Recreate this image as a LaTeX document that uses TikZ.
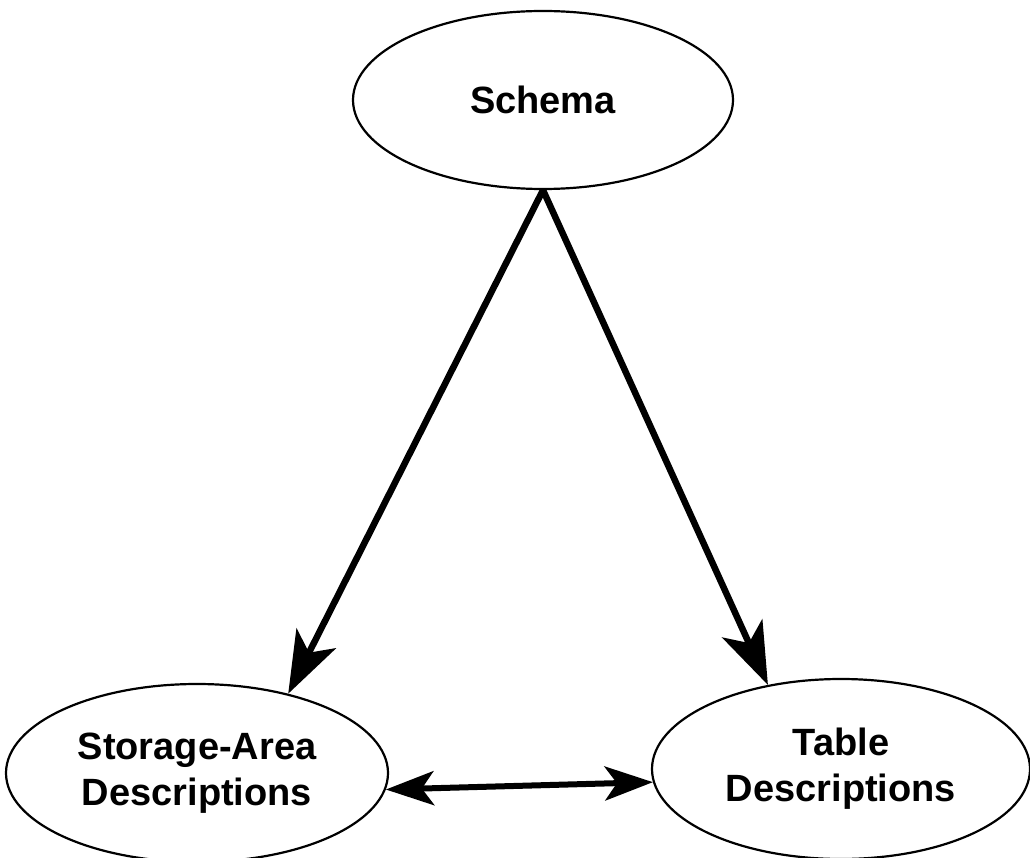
\documentclass[tikz,border=0pt]{standalone}
\usepackage{fontspec}
\setmainfont{Liberation Sans}
\usetikzlibrary{arrows.meta,shapes.geometric}
\begin{document}
\begin{tikzpicture}[x=1pt,y=-1pt,
  oval/.style={draw,ellipse,line width=2.2pt,inner sep=0pt,align=center,
    font=\fontsize{38}{46}\selectfont\bfseries},
  conn/.style={line width=6.5pt,-{Stealth[length=62pt,width=44pt,inset=16pt]}},
  dconn/.style={line width=6pt,{Stealth[length=48pt,width=34pt,inset=12pt]}-{Stealth[length=48pt,width=34pt,inset=12pt]}}]
\useasboundingbox (0,0) rectangle (1030,858);
\clip (0,0) rectangle (1030,858);
\node[oval,minimum width=380pt,minimum height=178pt] (schema) at (543,100) {Schema};
\node[oval,minimum width=382pt,minimum height=178pt] (storage) at (197,773) {Storage-Area\\Descriptions};
\node[oval,minimum width=378pt,minimum height=180pt] (table) at (841,769) {Table\\Descriptions};
\draw[conn] (schema.south) -- (storage.41);
\draw[conn] (schema.south) -- (table.131);
\draw[dconn] (storage.-5) -- (table.184);
\end{tikzpicture}
\end{document}
